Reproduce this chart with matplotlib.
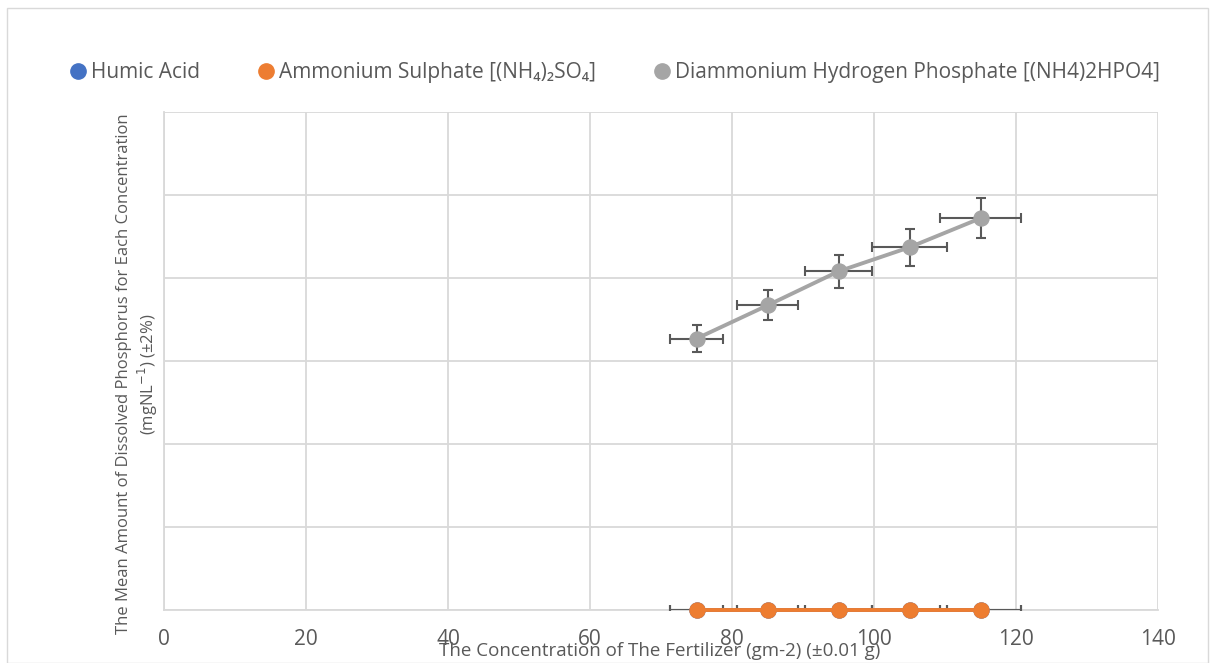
import matplotlib
matplotlib.use("Agg")
import matplotlib.pyplot as plt
from matplotlib.lines import Line2D
from matplotlib.patches import Rectangle

plt.rcParams['font.family'] = ['Open Sans', 'DejaVu Sans']

# data
concentration = [75, 85, 95, 105, 115]
humic_acid = [0, 0, 0, 0, 0]
ammonium_sulphate = [0, 0, 0, 0, 0]
diammonium_phosphate = [3.27, 3.67, 4.08, 4.37, 4.72]
x_err = [3.75, 4.25, 4.75, 5.25, 5.75]
dap_y_err = [0.16, 0.18, 0.2, 0.22, 0.24]
zero_err = [0, 0, 0, 0, 0]
x_ticks = [0, 20, 40, 60, 80, 100, 120, 140]
y_ticks = [0, 1, 2, 3, 4, 5, 6]

labels = ['Humic Acid',
          'Ammonium Sulphate [(NH\u2084)\u2082SO\u2084]',
          'Diammonium Hydrogen Phosphate [(NH4)2HPO4]']
colors = ['#4472C4', '#ED7D31', '#A5A5A5']
text_col = '#595959'
grid_col = '#D9D9D9'
err_col = '#595959'

fig = plt.figure(figsize=(12.13, 6.63), dpi=100)
fig.patches.append(Rectangle((0.006, 0.0), 0.99, 0.988, transform=fig.transFigure,
                             fill=False, edgecolor=grid_col, linewidth=1))
ax = fig.add_axes([0.1352, 0.0799, 0.8195, 0.7512])

series = [humic_acid, ammonium_sulphate, diammonium_phosphate]
y_errs = [zero_err, zero_err, dap_y_err]
for vals, yerr, col in zip(series, y_errs, colors):
    ax.errorbar(concentration, vals, xerr=x_err, yerr=yerr, fmt='none',
                ecolor=err_col, elinewidth=1.5, capsize=3.5, capthick=1.5, zorder=3)
    ax.plot(concentration, vals, color=col, linewidth=2.8, marker='o',
            markersize=10.8, zorder=4, clip_on=False)

ax.set_xlim(0, 140)
ax.set_ylim(0, 6)
ax.set_xticks(x_ticks)
ax.set_yticks(y_ticks)
ax.set_yticklabels([])
ax.grid(True, color=grid_col, linewidth=1.3)
ax.set_axisbelow(True)
ax.tick_params(axis='both', length=0, labelsize=15, labelcolor=text_col)
ax.tick_params(axis='x', pad=14)
for side in ['top', 'right']:
    ax.spines[side].set_visible(False)
ax.spines['left'].set_color(grid_col)
ax.spines['bottom'].set_color(grid_col)
ax.spines['left'].set_linewidth(1.3)
ax.spines['bottom'].set_linewidth(1.3)

ax.set_xlabel('The Concentration of The Fertilizer (gm-2) (\u00b10.01 g)',
              fontsize=13.5, color=text_col, va='center')
ax.xaxis.set_label_coords(0.499, -0.083)
ax.set_ylabel('The Mean Amount of Dissolved Phosphorus for Each Concentration\n'
              '(mgNL$^{-1}$) (\u00b12%)', fontsize=12, color=text_col,
              va='center', linespacing=1.25)
ax.yaxis.set_label_coords(-0.026, 0.474)

handles = [Line2D([], [], linestyle='none', marker='o', markersize=11,
                  color=c) for c in colors]
fig.legend(handles, labels, loc='center', bbox_to_anchor=(0.505, 0.89), ncol=3,
           frameon=False, fontsize=15, labelcolor=text_col, handletextpad=0.0,
           columnspacing=2.6, handlelength=1.2)

fig.savefig('out.png', dpi=100)
